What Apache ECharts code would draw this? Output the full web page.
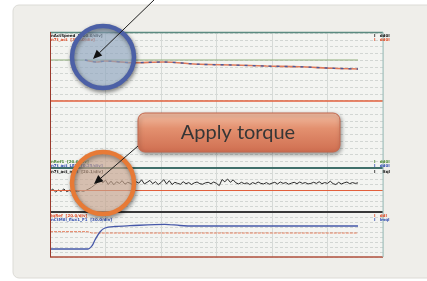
<!DOCTYPE html>
<html>
  <head>
    <meta charset="utf-8">
    <title>Apply torque</title>
    <script src="https://cdn.jsdelivr.net/npm/echarts@6/dist/echarts.min.js"></script>
    <style>
      html, body { margin: 0; padding: 0; background: #ffffff; }
      #chart { width: 427px; height: 281px; }
    </style>
  </head>
  <body>
    <div id="chart"></div>
    <script>
        // panel 1: speed
        const speedTime = [0.63, 0.85, 0.99, 1.5, 2.04, 2.7, 3.3, 3.9, 4.5, 5.1, 5.55];
        const speedAct  = [16.0, 15.7, 15.85, 15.6, 15.7, 15.36, 15.26, 15.1, 15.0, 14.77, 14.67];
        const speedRefTime = [0, 5.55];
        const speedRef  = [16, 16];
        const speedLimit = 10;

        // panel 2: torque, sampled every 0.05 s
        const torqueStep = 0.05;
        const torqueAct = [
            3.8, 4.15, 3.65, 4.0, 3.75, 4.2, 3.7, 3.95,
            3.65, 3.8, 3.7, 3.9, 3.75, 3.95,
            4.2, 4.5, 4.9, 5.3, 5.9,
            5.3, 5.8, 5.0, 5.6, 4.95, 5.5, 5.2, 5.7, 5.05, 5.4, 5.2, 4.9, 5.5, 5.25, 5.85, 5.1, 5.4, 5.75, 5.15, 5.5, 5.0,
            5.35, 5.9, 5.1, 5.7, 5.0, 5.4, 5.2, 5.05, 5.5, 5.15, 5.35, 5.0, 5.3, 5.45, 5.15, 5.05, 5.3, 5.4, 5.15, 5.45,
            5.2, 4.8, 5.9, 5.5, 6.0, 5.4, 5.85, 5.3, 5.1, 5.4, 5.15, 5.3, 5.0, 5.35, 5.15, 5.45, 5.2, 5.1, 5.35, 5.05,
            5.25, 5.4, 5.1, 5.45, 5.2, 5.35, 5.05, 5.25, 5.4, 5.15, 5.45, 5.2, 5.35, 5.1, 5.2, 5.4, 5.2, 5.5, 5.15, 5.35,
            5.2, 5.6, 5.15, 5.0, 5.4, 5.1, 5.3, 5.45, 5.15, 5.35, 5.2, 5.3
        ];
        const torqueZero = 4;

        // panel 3: current and flux
        const currentTime = [0, 0.68, 0.76, 0.81, 0.9, 0.99, 1.17, 1.44, 2.07, 2.34, 2.6, 5.55];
        const currentQ    = [1.6, 1.6, 2.3, 3.4, 5.0, 5.8, 6.1, 6.26, 6.54, 6.3, 6.2, 6.2];
        const fluxTime = [0, 0.68, 0.75, 5.55];
        const fluxAct  = [5.06, 5.06, 4.8, 4.8];

        const pairs = (xs, ys) => xs.map((x, i) => [x, ys[i]]);

        const chart = echarts.init(document.getElementById('chart'));

        const grids = [
            {left: 50, top: 33, width: 333, height: 135},
            {left: 50, top: 168, width: 333, height: 44},
            {left: 50, top: 212, width: 333, height: 45}
        ].map(g => Object.assign(g, {show: true, backgroundColor: '#f3f4f1', borderWidth: 0}));

        const xAxes = [0, 1, 2].map(i => ({
            type: 'value', gridIndex: i, min: 0, max: 6, interval: 1,
            axisLine: {show: false}, axisTick: {show: false}, axisLabel: {show: false},
            splitLine: {show: true, lineStyle: {color: '#d6dad7', width: 1}}
        }));
        const yMax = [20, 8, 9];
        const yAxes = [0, 1, 2].map(i => ({
            type: 'value', gridIndex: i, min: 0, max: yMax[i], interval: 1,
            axisLine: {show: false}, axisTick: {show: false}, axisLabel: {show: false},
            splitLine: {show: true, lineStyle: {color: '#d2d6d3', type: [3, 2], width: 1}}
        }));

        const tiny = (x, y, text, color, align) => ({
            type: 'text', x: x, y: y, z: 50,
            style: {text: text, fill: color, font: 'bold 4px "DejaVu Sans"', align: align || 'left'}
        });
        const hline = (x1, x2, y, color, w) => ({
            type: 'line', z: 40, shape: {x1: x1, y1: y, x2: x2, y2: y}, style: {stroke: color, lineWidth: w}
        });
        const arrow = (x1, y1, x2, y2) => {
            const a = Math.atan2(y2 - y1, x2 - x1), L = 9, W = 4;
            const bx = x2 - L * Math.cos(a), by = y2 - L * Math.sin(a);
            return [
                {type: 'line', z: 90, shape: {x1: x1, y1: y1, x2: bx, y2: by}, style: {stroke: '#1e1e1e', lineWidth: 1}},
                {type: 'polygon', z: 90, shape: {points: [[x2, y2],
                    [bx + W * Math.sin(a), by - W * Math.cos(a)],
                    [bx - W * Math.sin(a), by + W * Math.cos(a)]]}, style: {fill: '#111111'}}
            ];
        };

        chart.setOption({
            backgroundColor: '#ffffff',
            animation: false,
            grid: grids,
            xAxis: xAxes,
            yAxis: yAxes,
            series: [
                {type: 'line', xAxisIndex: 0, yAxisIndex: 0, data: pairs(speedRefTime, speedRef), symbol: 'none',
                 lineStyle: {color: '#8fae7a', width: 1},
                 markLine: {silent: true, symbol: 'none', label: {show: false},
                    lineStyle: {color: '#e2603c', width: 1.5, type: 'solid'}, data: [{yAxis: speedLimit}]}},
                {type: 'line', xAxisIndex: 0, yAxisIndex: 0, data: pairs(speedTime, speedAct), symbol: 'none',
                 smooth: 0.3, lineStyle: {color: '#e07a5a', width: 1.6}},
                {type: 'line', xAxisIndex: 0, yAxisIndex: 0, data: pairs(speedTime, speedAct), symbol: 'none',
                 smooth: 0.3, lineStyle: {color: '#4a5a9c', width: 1.4, type: [3, 5]}},
                {type: 'line', xAxisIndex: 1, yAxisIndex: 1, symbol: 'none',
                 data: torqueAct.map((v, i) => [i * torqueStep, v]),
                 lineStyle: {color: '#2a2a2a', width: 1},
                 markLine: {silent: true, symbol: 'none', label: {show: false},
                    lineStyle: {color: '#e2603c', width: 1.2, type: 'solid'}, data: [{yAxis: torqueZero}]}},
                {type: 'line', xAxisIndex: 2, yAxisIndex: 2, data: pairs(fluxTime, fluxAct), symbol: 'none',
                 lineStyle: {color: '#e37a58', width: 1, type: [3, 1]}},
                {type: 'line', xAxisIndex: 2, yAxisIndex: 2, data: pairs(currentTime, currentQ), symbol: 'none',
                 smooth: 0.3, lineStyle: {color: '#4658a8', width: 1.3}}
            ],
            graphic: [
                {type: 'rect', z: -10, shape: {x: 13, y: 5, width: 420, height: 273, r: 6},
                 style: {fill: '#efeeea', stroke: '#dcdbd6', lineWidth: 1}},
                hline(50, 383, 32.5, '#5a8a80', 1.5),
                hline(50, 383, 168, '#3f6f6a', 2),
                hline(50, 383, 212, '#383838', 2),
                hline(50, 383, 257, '#b0503c', 1.5),
                {type: 'line', z: 40, shape: {x1: 50.5, y1: 32, x2: 50.5, y2: 257}, style: {stroke: '#9a3a2c', lineWidth: 1}},
                {type: 'line', z: 40, shape: {x1: 383, y1: 32, x2: 383, y2: 257}, style: {stroke: '#9cc0bc', lineWidth: 1}},
                tiny(51, 34, 'nActSpeed  [300.0/div]', '#111111'),
                tiny(51, 38, 'n7t_act  [300.0/div]', '#e0502c'),
                tiny(374, 34, 'I   dd0I', '#111111'),
                tiny(374, 38, 'I   dd0I', '#e0502c'),
                tiny(51, 159.5, 'nRef1  [20.0/div]', '#4f8a3a'),
                tiny(51, 163.5, 'n7t_act_LED  [0.25/div]', '#3450b0'),
                tiny(51, 170, 'n7t_act_mot  [20.1/div]', '#111111'),
                tiny(374, 159.5, 'I   dd0I', '#4f8a3a'),
                tiny(374, 163.5, 'I   dd0I', '#3450b0'),
                tiny(374, 170, 'I     ltqI', '#111111'),
                tiny(51, 214, 'iqRef  [20.0/div]', '#e0502c'),
                tiny(51, 218, 'nCtMill_flux1_F1  [30.0/div]', '#3450b0'),
                tiny(374, 214, 'I   ddI', '#e0502c'),
                tiny(374, 218, 'I   lmqI', '#3450b0'),
                {type: 'circle', z: 80, shape: {cx: 103, cy: 57, r: 31},
                 style: {fill: 'rgba(172,198,228,0.55)', stroke: '#4c60a6', lineWidth: 4.5,
                    shadowBlur: 4, shadowOffsetX: 1, shadowOffsetY: 2, shadowColor: 'rgba(0,0,0,0.45)'}},
                {type: 'circle', z: 80, shape: {cx: 103, cy: 183, r: 31},
                 style: {fill: 'rgba(238,196,170,0.55)', stroke: '#e77a36', lineWidth: 4.5,
                    shadowBlur: 4, shadowOffsetX: 1, shadowOffsetY: 2, shadowColor: 'rgba(0,0,0,0.45)'}},
                ...arrow(155, -1, 93, 59),
                ...arrow(138, 146, 94, 184),
                {type: 'rect', z: 85, shape: {x: 138, y: 113, width: 202, height: 39, r: 7},
                 style: {fill: new echarts.graphic.LinearGradient(0, 0, 0, 1, [
                        {offset: 0, color: '#f2c0a6'}, {offset: 0.4, color: '#e3906f'}, {offset: 1, color: '#cf6e50'}]),
                    stroke: '#c4694f', lineWidth: 1,
                    shadowBlur: 4, shadowOffsetX: 1, shadowOffsetY: 2, shadowColor: 'rgba(0,0,0,0.4)'}},
                {type: 'text', z: 86, x: 238, y: 133,
                 style: {text: 'Apply torque', fill: '#363636', font: '20px Lato', align: 'center', verticalAlign: 'middle'}}
            ]
        });
    </script>
  </body>
</html>
